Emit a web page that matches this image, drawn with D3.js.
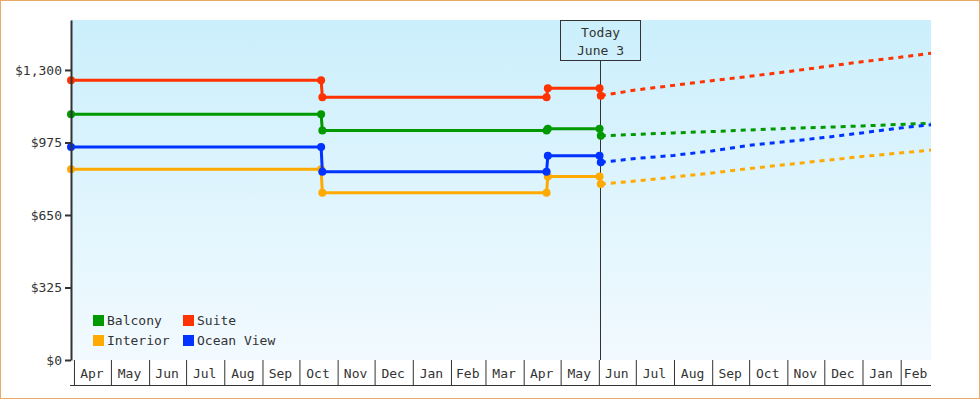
<!DOCTYPE html>
<html>
<head>
<meta charset="utf-8">
<script src="https://cdn.jsdelivr.net/npm/d3@7"></script>
<style>
  body { margin: 0; background: #fff; }
  svg { display: block; font-family: "DejaVu Sans Mono", monospace; font-size: 13px; }
  .axis text { fill: #333; font-family: "DejaVu Sans Mono", monospace; font-size: 13px; }
</style>
</head>
<body>
<div id="chart"></div>
<script>
// data
const seriesNames = ["Balcony", "Suite", "Interior", "Ocean View"];
const seriesColors = ["#009900", "#ff3300", "#ffaa00", "#0033ff"];

const historyDates = ["2022-03-30", "2022-10-19", "2022-10-20", "2023-04-20", "2023-04-21", "2023-06-02", "2023-06-03"];
const balconyHistory = [1102, 1102, 1029, 1029, 1036, 1036, 1005];
const suiteHistory = [1254, 1254, 1178, 1178, 1218, 1218, 1185];
const interiorHistory = [855, 855, 750, 750, 822, 822, 789];
const oceanHistory = [955, 955, 844, 844, 915, 915, 886];

const forecastDates = ["2023-06-03", "2023-07-01", "2023-08-01", "2023-09-01", "2023-10-01", "2023-11-01", "2023-12-01", "2024-01-01", "2024-02-01", "2024-02-26"];
const balconyForecast = [1005, 1011, 1018, 1024, 1031, 1038, 1043, 1049, 1056, 1061];
const suiteForecast = [1185, 1210, 1231, 1252, 1271, 1292, 1314, 1337, 1357, 1375];
const interiorForecast = [789, 802, 820, 838, 858, 876, 894, 912, 928, 941];
const oceanForecast = [886, 903, 917, 937, 962, 979, 997, 1018, 1040, 1054];

const yTicks = [0, 325, 650, 975, 1300];
const todayDate = "2023-06-03";
const todayLabel = ["Today", "June 3"];
const xDomain = ["2022-03-30", "2024-02-26"];
const yMax = 1524;

const parse = d3.timeParse("%Y-%m-%d");
const histories = [balconyHistory, suiteHistory, interiorHistory, oceanHistory];
const forecasts = [balconyForecast, suiteForecast, interiorForecast, oceanForecast];

const width = 980, height = 400;
const margin = {top: 20, right: 49, bottom: 40, left: 71};

const svg = d3.select("#chart").append("svg")
    .attr("width", width)
    .attr("height", height);

// outer frame
svg.append("rect")
    .attr("x", 0.5).attr("y", 0.5)
    .attr("width", width - 1).attr("height", height - 2)
    .attr("fill", "#fff")
    .attr("stroke", "#e8aa66");

const x = d3.scaleTime()
    .domain(xDomain.map(parse))
    .range([margin.left, width - margin.right]);

const y = d3.scaleLinear()
    .domain([0, yMax])
    .range([height - margin.bottom, margin.top]);

// background gradient
const grad = svg.append("defs").append("linearGradient")
    .attr("id", "bg").attr("x1", 0).attr("y1", 0).attr("x2", 0).attr("y2", 1);
grad.append("stop").attr("offset", "0%").attr("stop-color", "#cbeffc");
grad.append("stop").attr("offset", "100%").attr("stop-color", "#f2faff");

svg.append("rect")
    .attr("x", x.range()[0])
    .attr("y", y.range()[1])
    .attr("width", x.range()[1] - x.range()[0])
    .attr("height", y.range()[0] - y.range()[1])
    .attr("fill", "url(#bg)");

// today marker
const tx = Math.round(x(parse(todayDate))) - 0.5;
svg.append("line")
    .attr("x1", tx).attr("x2", tx)
    .attr("y1", 60).attr("y2", y(0))
    .attr("stroke", "#333");

svg.append("rect")
    .attr("x", tx - 40).attr("y", 20.5)
    .attr("width", 80).attr("height", 40)
    .attr("fill", "none")
    .attr("stroke", "#333");

svg.append("text")
    .attr("x", tx).attr("y", 37)
    .attr("text-anchor", "middle")
    .attr("fill", "#333")
    .text(todayLabel[0]);
svg.append("text")
    .attr("x", tx).attr("y", 55)
    .attr("text-anchor", "middle")
    .attr("fill", "#333")
    .text(todayLabel[1]);

// series lines
const line = d3.line()
    .x(d => x(d.date))
    .y(d => y(d.value));

seriesNames.forEach((name, i) => {
    const hist = historyDates.map((d, j) => ({date: parse(d), value: histories[i][j]}));
    const fc = forecastDates.map((d, j) => ({date: parse(d), value: forecasts[i][j]}));

    svg.append("path")
        .datum(fc)
        .attr("d", line)
        .attr("fill", "none")
        .attr("stroke", seriesColors[i])
        .attr("stroke-width", 3)
        .attr("stroke-dasharray", "5,5");

    svg.append("path")
        .datum(hist)
        .attr("d", line)
        .attr("fill", "none")
        .attr("stroke", seriesColors[i])
        .attr("stroke-width", 3);

    svg.selectAll(null)
        .data(hist)
        .enter()
        .append("circle")
        .attr("cx", d => x(d.date))
        .attr("cy", d => y(d.value))
        .attr("r", 4)
        .attr("fill", seriesColors[i]);
});

// y axis
const yAxis = svg.append("g")
    .attr("class", "axis")
    .attr("transform", `translate(${margin.left},0)`)
    .call(d3.axisLeft(y)
        .tickValues(yTicks)
        .tickSize(6)
        .tickSizeOuter(0)
        .tickPadding(3)
        .tickFormat(d => "$" + d3.format(",")(d)));
yAxis.selectAll("path, line").attr("stroke", "#333").attr("stroke-width", 2);

// x axis: month cells
const d0 = x.domain()[0], d1 = x.domain()[1];
const months = d3.timeMonth.range(d3.timeMonth.ceil(d0), d1);

const xAxis = svg.append("g")
    .attr("class", "axis")
    .attr("transform", `translate(0.5,${y(0)})`)
    .call(d3.axisBottom(x)
        .tickValues(months)
        .tickSize(25)
        .tickSizeOuter(0)
        .tickFormat(""));
xAxis.select(".domain").remove();
xAxis.selectAll("line").attr("stroke", "#333");

svg.append("line")
    .attr("x1", margin.left - 1).attr("x2", x.range()[1])
    .attr("y1", y(0) + 25.5).attr("y2", y(0) + 25.5)
    .attr("stroke", "#333");

const monthFmt = d3.timeFormat("%b");
svg.append("g")
    .attr("class", "axis")
    .selectAll("text")
    .data(months)
    .enter()
    .append("text")
    .attr("x", d => (x(d) + x(d3.min([d3.timeMonth.offset(d, 1), d1]))) / 2)
    .attr("y", y(0) + 18)
    .attr("text-anchor", "middle")
    .text(monthFmt);

// legend
const legend = svg.selectAll(".legend")
    .data(seriesNames)
    .enter()
    .append("g")
    .attr("class", "legend")
    .attr("transform", (d, i) => `translate(${93 + (i % 2) * 90},${315 + Math.floor(i / 2) * 20})`);

legend.append("rect")
    .attr("width", 11)
    .attr("height", 11)
    .attr("fill", (d, i) => seriesColors[i]);

legend.append("text")
    .attr("x", 14)
    .attr("y", 10)
    .attr("fill", "#333")
    .text(d => d);
</script>
</body>
</html>
